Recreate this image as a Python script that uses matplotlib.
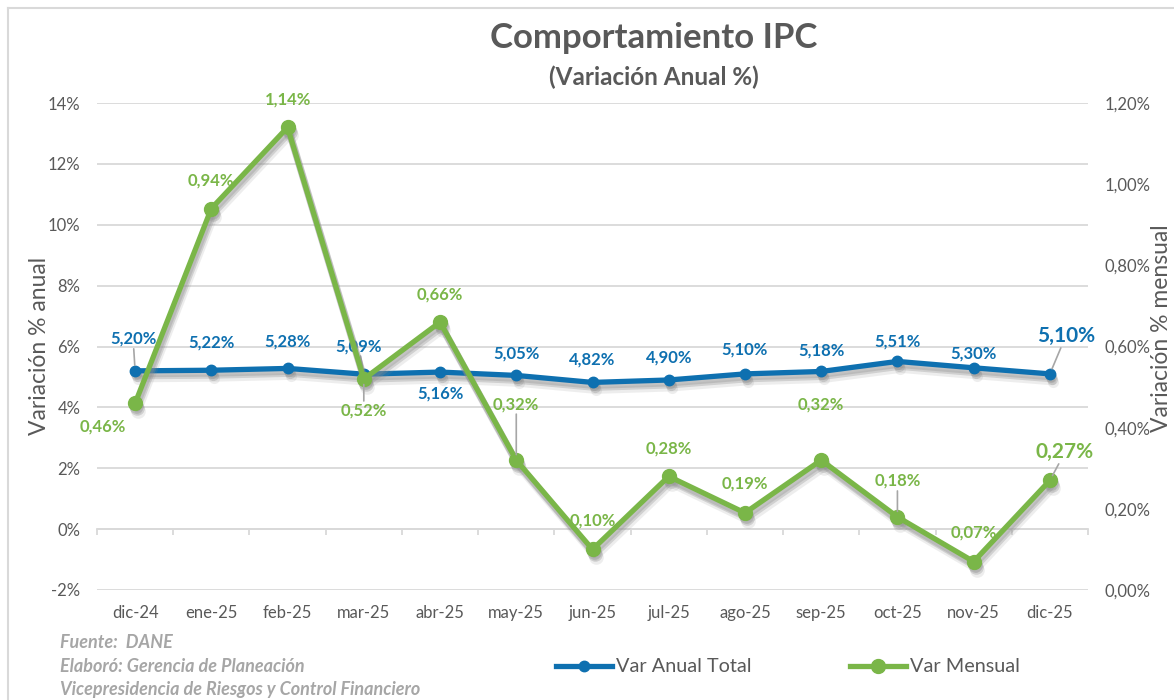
import numpy as np
import matplotlib
matplotlib.use("Agg")
import matplotlib.pyplot as plt
import matplotlib.transforms as mtransforms
from matplotlib.lines import Line2D

plt.rcParams['font.family'] = ['Lato', 'DejaVu Sans']

meses = ['dic-24', 'ene-25', 'feb-25', 'mar-25', 'abr-25', 'may-25', 'jun-25',
         'jul-25', 'ago-25', 'sep-25', 'oct-25', 'nov-25', 'dic-25']
var_anual = [5.20, 5.22, 5.28, 5.09, 5.16, 5.05, 4.82, 4.90, 5.10, 5.18, 5.51, 5.30, 5.10]
var_mensual = [0.46, 0.94, 1.14, 0.52, 0.66, 0.32, 0.10, 0.28, 0.19, 0.32, 0.18, 0.07, 0.27]

left_ticks = [-2, 0, 2, 4, 6, 8, 10, 12, 14]
right_ticks = [0.0, 0.2, 0.4, 0.6, 0.8, 1.0, 1.2]

# label offsets in pixels (dx, dy) and whether a leader line is drawn
off_anual = [(-2, 32, True), (0, 28, False), (0, 27, False), (-5, 28, True), (0, -21, False),
             (0, 22, False), (0, 23, False), (0, 22, False), (0, 24, False), (0, 21, False),
             (0, 20, False), (0, 14, False), (16, 38, True)]
off_mensual = [(-32, -23, False), (0, 28, False), (0, 28, False), (0, -32, True), (0, 28, False),
               (0, 56, True), (0, 29, False), (0, 28, False), (0, 29, False), (0, 56, False),
               (0, 36, True), (0, 29, False), (15, 28, True)]

BLUE = '#0E70B0'
GREEN = '#7AB648'
GRAY = '#595959'
GRID = '#D9D9D9'

fig = plt.figure(figsize=(11.74, 7), dpi=100)
ax = fig.add_axes([97/1174, 1-590/700, (1088-97)/1174, (590-103)/700])
ax2 = ax.twinx()

x = np.arange(len(meses))

# soft shadows below the lines
for a, vals, ms in ((ax, var_anual, 8), (ax2, var_mensual, 10.5)):
    for ox, oy, al in ((1, -3, 0.3), (2, -5, 0.3), (3, -8, 0.15)):
        tr = mtransforms.offset_copy(a.transData, fig=fig, x=ox, y=oy, units='dots')
        a.plot(x, vals, color='#8C8C8C', alpha=al, lw=5, marker='o', ms=ms, mew=0,
               transform=tr, zorder=2, solid_capstyle='round')

ax.plot(x, var_anual, color=BLUE, lw=3.8, marker='o', ms=7.5, zorder=3,
        solid_capstyle='round')
ax2.plot(x, var_mensual, color=GREEN, lw=3.8, marker='o', ms=10, zorder=3,
         solid_capstyle='round')

ax.set_ylim(-2, 14)
ax2.set_ylim(0, 1.2)
ax.set_xlim(-0.5, len(meses) - 0.5)
ax.set_yticks(left_ticks)
ax.set_yticklabels([f'{v}%' for v in left_ticks])
ax2.set_yticks(right_ticks)
ax2.set_yticklabels([f'{v:.2f}%'.replace('.', ',') for v in right_ticks])
ax.set_xticks(x)
ax.set_xticklabels(meses)

ax.grid(axis='y', color=GRID, lw=1.3)
ax.set_axisbelow(True)
for a in (ax, ax2):
    for s in a.spines.values():
        s.set_visible(False)
    a.tick_params(length=0, labelsize=12, colors=GRAY)
ax.tick_params(axis='y', pad=12)
ax.tick_params(axis='x', pad=11)
ax2.tick_params(axis='y', pad=12)

# category axis crossing at 0% with small boundary ticks
sec = ax.secondary_xaxis(2 / 16)
sec.set_xticks(np.arange(len(meses) + 1) - 0.5)
sec.set_xticklabels([])
sec.tick_params(length=4, width=1.3, color=GRID, direction='out')
sec.spines['bottom'].set_color(GRID)
sec.spines['bottom'].set_linewidth(1.3)

fig.text(40/1174, 1-346/700, 'Variación % anual', rotation=90, ha='center', va='center',
         fontsize=16.5, color=GRAY)
fig.text(1162/1174, 1-328/700, 'Variación % mensual', rotation=90, ha='center', va='center',
         fontsize=16.5, color=GRAY)

ax2.set_zorder(ax.get_zorder() + 1)
ax.patch.set_visible(True)
ax2.patch.set_visible(False)

def etiqueta(axis, xi, v, off, color, big):
    dx, dy, leader = off
    fs = 15 if big else 12
    axis.annotate(f'{v:.2f}%'.replace('.', ','), (xi, v), xytext=(dx, dy),
                  textcoords='offset pixels', ha='center', va='center',
                  fontsize=fs, fontweight='bold', color=color, zorder=5)
    if leader:
        ang = np.arctan2(dy, dx)
        r1 = np.hypot(dx, dy) - (13 if big else 10)
        axis.annotate('', (xi, v), xytext=(r1*np.cos(ang), r1*np.sin(ang)),
                      textcoords='offset pixels',
                      arrowprops=dict(arrowstyle='-', color='#A6A6A6', lw=1.2,
                                      shrinkA=0, shrinkB=4), zorder=4)

for i, v in enumerate(var_anual):
    etiqueta(ax, x[i], v, off_anual[i], BLUE, i == len(meses) - 1)
for i, v in enumerate(var_mensual):
    etiqueta(ax2, x[i], v, off_mensual[i], GREEN, i == len(meses) - 1)

fig.text(654/1174, 1-38/700, 'Comportamiento IPC', ha='center', va='center',
         fontsize=25, fontweight='bold', color=GRAY)
fig.text(654/1174, 1-77/700, '(Variación Anual %)', ha='center', va='center',
         fontsize=17.5, fontweight='bold', color=GRAY)

for i, t in enumerate(['Fuente:  DANE', 'Elaboró: Gerencia de Planeación',
                       'Vicepresidencia de Riesgos y Control Financiero']):
    fig.text(60/1174, 1-(643 + i*23)/700, t, ha='left', va='center', fontsize=13,
             fontweight='bold', fontstyle='italic', color='#A6A6A6')

handles = [Line2D([], [], color=BLUE, lw=3.8, marker='o', ms=7.5),
           Line2D([], [], color=GREEN, lw=3.8, marker='o', ms=10)]
fig.legend(handles, ['Var Anual Total', 'Var Mensual'], loc='center',
           bbox_to_anchor=(788/1174, 1-667/700), ncol=2, frameon=False,
           fontsize=14.3, labelcolor=GRAY, handlelength=2.8, handletextpad=0.2,
           columnspacing=5.0)

# outer chart border
fig.add_artist(Line2D([8/1174, 8/1174], [0, 1-8/700], transform=fig.transFigure,
                      color=GRID, lw=1.5))
fig.add_artist(Line2D([8/1174, 1], [1-8/700, 1-8/700], transform=fig.transFigure,
                      color=GRID, lw=1.5))

fig.savefig('out.png', dpi=100)
